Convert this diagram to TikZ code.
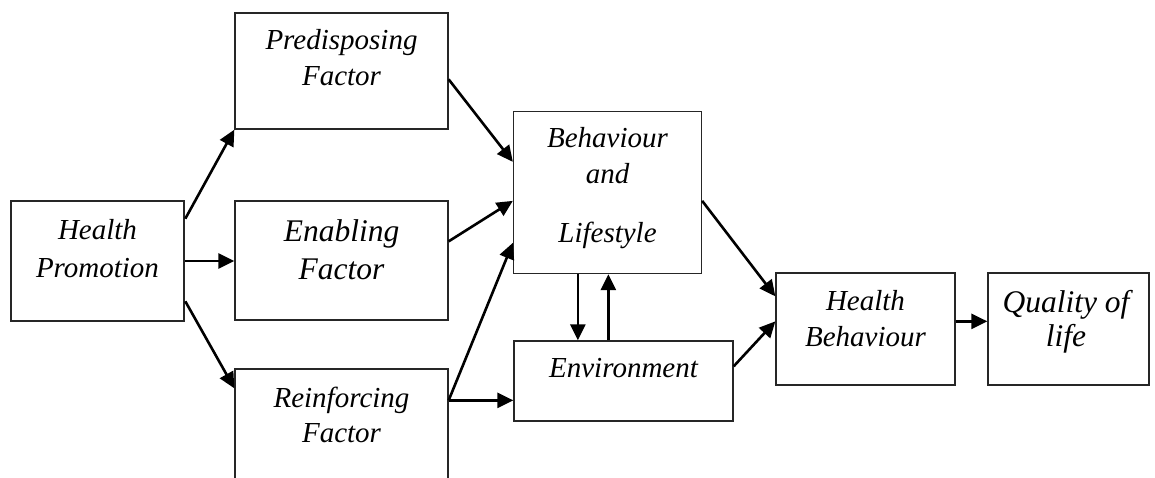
\documentclass[tikz,border=0pt]{standalone}
\usepackage{fontspec}
\setmainfont{Liberation Serif}[ItalicFont={Liberation Serif Italic}]
\usetikzlibrary{arrows.meta,calc}
\begin{document}
\begin{tikzpicture}[x=1pt,y=-1pt,
  box/.style={draw=black!85,line width=1.3pt,inner sep=0pt,rectangle},
  txt/.style={anchor=base,inner sep=0pt,font=\fontsize{29}{35}\selectfont\itshape},
  txtb/.style={anchor=base,inner sep=0pt,font=\fontsize{31.5}{38}\selectfont\itshape},
  arr/.style={line width=2.6pt,-{Triangle[length=16pt,width=15pt]}}]
\useasboundingbox (0,0) rectangle (1155,478);
\fill[white] (0,0) rectangle (1155,478);
\clip (0,0) rectangle (1155,478);
% boxes
\node[box,line width=2.6pt,minimum width=173pt,minimum height=120pt] (hp) at (97.5,261) {};
\node[box,minimum width=213pt,minimum height=116pt] (pred) at (341.5,71) {};
\node[box,minimum width=213pt,minimum height=119pt] (enab) at (341.5,260.5) {};
\node[box,minimum width=213pt,minimum height=131pt] (rein) at (341.5,434.5) {};
\node[box,minimum width=188pt,minimum height=162pt] (bl) at (607.5,192.5) {};
\node[box,minimum width=219pt,minimum height=80pt] (env) at (623.5,381) {};
\node[box,minimum width=179pt,minimum height=112pt] (hb) at (865.5,329) {};
\node[box,minimum width=161pt,minimum height=112pt] (qol) at (1068.5,329) {};
% texts
\node[txt] (hp1) at (97.5,240) {Health};
\node[txt] (hp2) at (97.5,277) {Promotion};
\node[txt] (pr1) at (341.5,50) {Predisposing};
\node[txt] (pr2) at (341.5,86) {Factor};
\node[txtb] (en1) at (341.5,241) {Enabling};
\node[txtb] (en2) at (341.5,279) {Factor};
\node[txt] (re1) at (341.5,407) {Reinforcing};
\node[txt] (re2) at (341.5,442) {Factor};
\node[txt] (bl1) at (607.5,148) {Behaviour};
\node[txt] (bl2) at (607.5,184) {and};
\node[txt] (bl3) at (607.5,243) {Lifestyle};
\node[txt] (en) at (623.5,377) {Environment};
\node[txt] (hb1) at (865.5,310) {Health};
\node[txt] (hb2) at (865.5,346) {Behaviour};
\node[txtb] (q1) at (1066,312) {Quality of};
\node[txtb] (q2) at (1066,346) {life};
% connectors
\draw[arr] ($(hp.north east)+(0,19)$) -- (pred.south west);
\draw[arr] (hp.east) -- (hp.east -| enab.west);
\draw[arr] ($(hp.south east)+(0,-21)$) -- ($(rein.north west)+(0,20)$);
\draw[arr] ($(pred.north east)+(0,67)$) -- ($(bl.north west)+(0,51)$);
\draw[arr] ($(enab.north east)+(0,41)$) -- ($(bl.north west)+(0,90)$);
\draw[arr] ($(rein.north east)+(0,32)$) -- ($(bl.north west)+(0,132)$);
\draw[arr] ($(rein.north east)+(0,32)$) -- ($(env.north west)+(0,60)$);
\coordinate (d1) at ($(bl.south west)+(65,0)$);
\coordinate (u1) at ($(env.north west)+(95,0)$);
\draw[arr] (d1) -- (d1 |- env.north);
\draw[arr] (u1) -- (u1 |- bl.south);
\draw[arr] ($(bl.north east)+(0,90)$) -- ($(hb.north west)+(0,24)$);
\draw[arr] ($(env.north east)+(0,26)$) -- ($(hb.north west)+(0,49)$);
\draw[arr] ($(hb.north east)+(0,49)$) -- ($(qol.north west)+(0,49)$);
\end{tikzpicture}
\end{document}
